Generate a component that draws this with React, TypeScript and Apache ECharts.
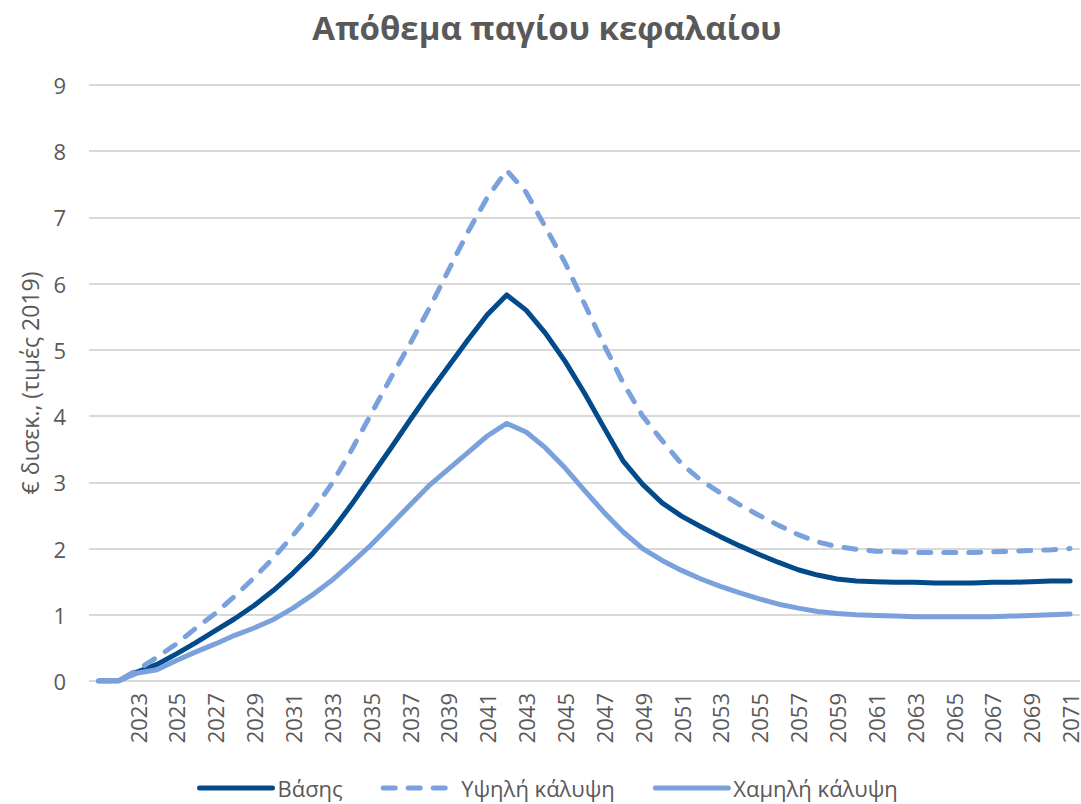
import React, { useEffect, useRef } from "react";
import * as echarts from "echarts";

const years: string[] = [];
for (let y = 2021; y <= 2071; y++) years.push(String(y));

const baseValues = [
  0, 0, 0.14, 0.25, 0.41, 0.58, 0.76, 0.94, 1.14, 1.37,
  1.63, 1.92, 2.27, 2.66, 3.08, 3.5, 3.93, 4.35, 4.75, 5.15,
  5.53, 5.83, 5.6, 5.25, 4.83, 4.35, 3.83, 3.32, 2.97, 2.69,
  2.49, 2.33, 2.18, 2.04, 1.91, 1.79, 1.68, 1.6, 1.54, 1.51,
  1.5, 1.49, 1.49, 1.48, 1.48, 1.48, 1.49, 1.49, 1.5, 1.51, 1.51,
];

const highValues = [
  0, 0, 0.17, 0.36, 0.56, 0.8, 1.02, 1.28, 1.56, 1.86,
  2.2, 2.56, 2.98, 3.48, 4.02, 4.56, 5.08, 5.62, 6.2, 6.78,
  7.3, 7.71, 7.38, 6.85, 6.32, 5.7, 5.08, 4.5, 4.0, 3.63,
  3.28, 3.03, 2.84, 2.66, 2.5, 2.35, 2.21, 2.1, 2.03, 1.99,
  1.96, 1.95, 1.94, 1.94, 1.94, 1.94, 1.95, 1.96, 1.97, 1.98, 2.0,
];

const lowValues = [
  0, 0, 0.12, 0.17, 0.31, 0.44, 0.56, 0.69, 0.8, 0.93,
  1.1, 1.3, 1.52, 1.78, 2.05, 2.35, 2.65, 2.95, 3.2, 3.45,
  3.7, 3.89, 3.76, 3.52, 3.22, 2.88, 2.55, 2.25, 2.0, 1.82,
  1.67, 1.54, 1.43, 1.33, 1.24, 1.16, 1.1, 1.05, 1.02, 1.0,
  0.99, 0.98, 0.97, 0.97, 0.97, 0.97, 0.97, 0.98, 0.99, 1.0, 1.01,
];

const seriesNames = ["Βάσης", "Υψηλή κάλυψη", "Χαμηλή κάλυψη"];
const yTicks = [0, 9, 1];

const FONT = "'Open Sans', 'DejaVu Sans', sans-serif";
const TEXT = "#595959";
const DARK = "#034A8B";
const LIGHT = "#7BA1DC";

export default function App() {
  const ref = useRef<HTMLDivElement>(null);
  useEffect(() => {
    if (!ref.current) return;
    const chart = echarts.init(ref.current, undefined, { renderer: "svg" });
    chart.setOption({
      animation: false,
      backgroundColor: "#ffffff",
      title: {
        text: "Απόθεμα παγίου κεφαλαίου",
        left: 542,
        textAlign: "center",
        top: 6,
        textStyle: { fontFamily: FONT, fontSize: 33, fontWeight: "bold", color: TEXT },
      },
      grid: { left: 89, top: 85, width: 1000, height: 596 },
      legend: {
        bottom: 0,
        left: 192,
        itemWidth: 73,
        itemHeight: 16,
        itemGap: 38,
        data: seriesNames,
        itemStyle: { opacity: 0 },
        lineStyle: { width: 5 },
        textStyle: { fontFamily: FONT, fontSize: 22, color: TEXT },
      },
      xAxis: {
        type: "category",
        data: years,
        boundaryGap: true,
        axisLine: { show: false },
        axisTick: { show: false },
        axisLabel: {
          rotate: 90,
          margin: 12,
          fontFamily: FONT,
          fontSize: 22,
          color: TEXT,
          interval: (idx: number) => idx >= 2 && (idx - 2) % 2 === 0,
        },
      },
      yAxis: {
        type: "value",
        min: yTicks[0],
        max: yTicks[1],
        interval: yTicks[2],
        name: "€ δισεκ., (τιμές 2019)",
        nameLocation: "middle",
        nameGap: 48,
        nameTextStyle: { fontFamily: FONT, fontSize: 23, color: TEXT },
        axisLine: { show: false },
        axisTick: { show: false },
        axisLabel: { margin: 23, fontFamily: FONT, fontSize: 22, color: TEXT },
        splitLine: { lineStyle: { color: "#D9D9D9", width: 2 } },
      },
      series: [
        {
          name: seriesNames[0],
          type: "line",
          data: baseValues,
          showSymbol: false,
          symbol: "none",
          lineStyle: { color: DARK, width: 5, cap: "round", join: "round" },
          itemStyle: { color: DARK },
        },
        {
          name: seriesNames[1],
          type: "line",
          data: highValues,
          showSymbol: false,
          symbol: "none",
          lineStyle: { color: LIGHT, width: 5, type: [12, 13], cap: "round", join: "round" },
          itemStyle: { color: LIGHT },
        },
        {
          name: seriesNames[2],
          type: "line",
          data: lowValues,
          showSymbol: false,
          symbol: "none",
          lineStyle: { color: LIGHT, width: 5, cap: "round", join: "round" },
          itemStyle: { color: LIGHT },
        },
      ],
    });
    return () => chart.dispose();
  }, []);
  return (
    <div
      ref={ref}
      style={{ position: "absolute", left: 0, top: 0, width: 1081, height: 804 }}
    />
  );
}
